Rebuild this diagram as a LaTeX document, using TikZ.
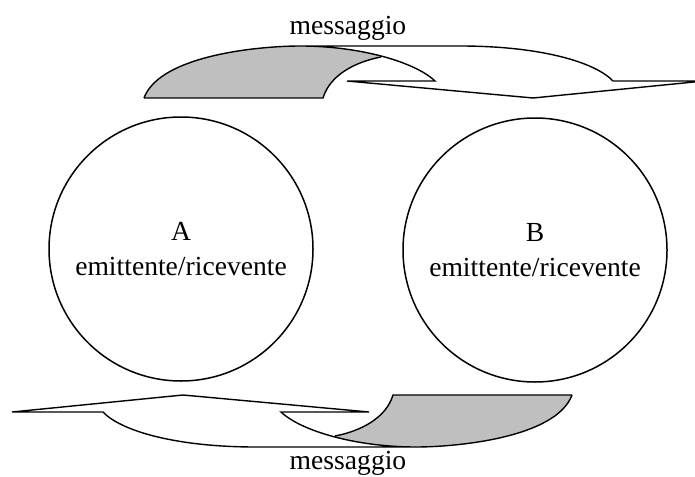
\documentclass[tikz,border=0pt]{standalone}
\usepackage{fontspec}
\setmainfont{Liberation Serif}

\begin{document}
\begin{tikzpicture}[x=0.5pt,y=-0.5pt,
    font=\fontsize{13.8}{17.5}\selectfont,
    station/.style={draw,circle,line width=0.75pt,minimum size=132pt,inner sep=0pt,align=center},
    msgline/.style={line width=0.7pt},
    msgfill/.style={fill=black!25}]

    \clip (0,0) rectangle (695,476);

    \node [station] (A) at (181,249) {A\\emittente/ricevente};
    \node [station] (B) at (535,250) {B\\emittente/ricevente};

    \node (msgtop) at (348,28)  {messaggio};
    \node (msgbot) at (348,463) {messaggio};

    % the two curved arrows, the lower one is the upper one turned round
    \foreach \ang in {0,180}{%
        \begin{scope}[rotate around={\ang:(358,246.5)}]
            \begin{scope}
                \clip (144,98) .. controls (160,55) and (260,46) .. (300,46)
                    .. controls (360,46) and (415,62) .. (435,81)
                    -- (435,102) -- (140,102) -- cycle;
                \fill [msgfill] (144,98) -- (323,98)
                    .. controls (330,75) and (355,62) .. (381,57)
                    -- (400,40) -- (140,40) -- cycle;
            \end{scope}
            \draw [msgline] (144,98) -- (323,98)
                .. controls (330,75) and (355,62) .. (381,57);
            \draw [msgline] (144,98) .. controls (160,55) and (260,46) .. (300,46)
                .. controls (360,46) and (415,62) .. (435,81)
                -- (347,81) -- (533,98) -- (704,81) -- (613,81)
                .. controls (595,62) and (540,46) .. (460,46) -- (300,46);
        \end{scope}
    }
\end{tikzpicture}
\end{document}
